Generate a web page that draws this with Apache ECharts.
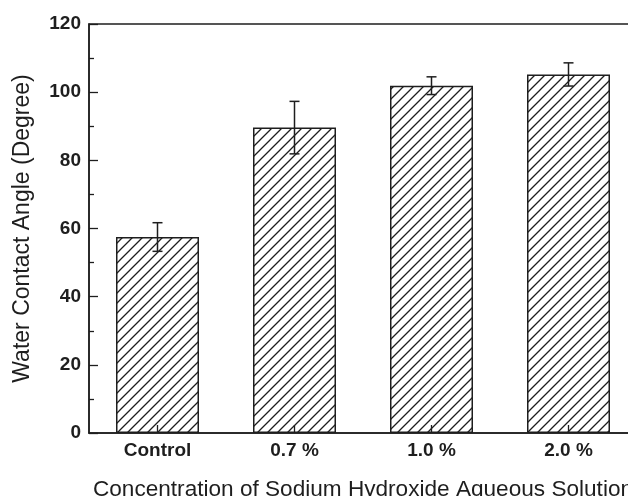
<!DOCTYPE html>
<html>
<head>
<meta charset="utf-8">
<script src="https://cdn.jsdelivr.net/npm/echarts@6/dist/echarts.min.js"></script>
<style>
  html, body { margin: 0; padding: 0; background: #ffffff; }
  #chart { width: 628px; height: 496px; }
</style>
</head>
<body>
<div id="chart"></div>
<script>
// Water contact angle by NaOH concentration (mean ± error)
const categories = ['Control', '0.7 %', '1.0 %', '2.0 %'];
const angleMean  = [57.5, 89.6, 101.9, 105.2];
const angleError = [4.2, 7.7, 2.6, 3.4];
const yTicks = { min: 0, max: 120, interval: 20 };

const INK = '#1e1e1e';
const FONT = '"Liberation Sans", Arial, Helvetica, sans-serif';

// Diagonal "/" hatch used to fill the bars
function hatchPattern() {
  const s = 10;
  const c = document.createElement('canvas');
  c.width = s; c.height = s;
  const g = c.getContext('2d');
  g.strokeStyle = INK;
  g.lineWidth = 1.3;
  g.beginPath();
  g.moveTo(0, s); g.lineTo(s, 0);
  g.moveTo(-2, 2); g.lineTo(2, -2);
  g.moveTo(s - 2, s + 2); g.lineTo(s + 2, s - 2);
  g.stroke();
  return c;
}

const chart = echarts.init(document.getElementById('chart'), null, { renderer: 'canvas' });

const option = {
  animation: false,
  backgroundColor: '#ffffff',
  grid: {
    left: 89, top: 24, width: 548, height: 409,
    containLabel: false,
    outerBoundsMode: 'none',
    show: true, borderColor: INK, borderWidth: 1.5, backgroundColor: 'transparent'
  },
  xAxis: {
    type: 'category',
    data: categories,
    name: 'Concentration of Sodium Hydroxide Aqueous Solution',
    nameLocation: 'middle',
    nameGap: 45,
    nameTextStyle: { fontFamily: FONT, fontSize: 22.6, color: INK },
    axisLine: { lineStyle: { color: INK, width: 1.5 } },
    axisTick: { show: true, inside: true, alignWithLabel: true, length: 8, lineStyle: { color: INK, width: 1.3 } },
    axisLabel: { fontFamily: FONT, fontSize: 19, fontWeight: 'bold', color: INK, margin: 8 },
    splitLine: { show: false }
  },
  yAxis: {
    type: 'value',
    min: yTicks.min, max: yTicks.max, interval: yTicks.interval,
    name: 'Water Contact Angle (Degree)',
    nameLocation: 'middle',
    nameRotate: 90,
    nameGap: 55,
    nameTextStyle: { fontFamily: FONT, fontSize: 23, color: INK },
    axisLine: { show: true, lineStyle: { color: INK, width: 1.5 } },
    axisTick: { show: true, inside: true, length: 9, lineStyle: { color: INK, width: 1.3 } },
    minorTick: { show: true, splitNumber: 2, length: 5, lineStyle: { color: INK, width: 1.3 } },
    axisLabel: { fontFamily: FONT, fontSize: 19, fontWeight: 'bold', color: INK, margin: 8 },
    splitLine: { show: false }
  },
  series: [
    {
      type: 'bar',
      data: angleMean,
      barWidth: 83,
      itemStyle: {
        color: { image: hatchPattern(), repeat: 'repeat' },
        borderColor: INK,
        borderWidth: 1.5
      },
      z: 2
    },
    {
      type: 'custom',
      data: angleMean.map((m, i) => [i, m - angleError[i], m + angleError[i]]),
      z: 5,
      renderItem: function (params, api) {
        const lo = api.coord([api.value(0), api.value(1)]);
        const hi = api.coord([api.value(0), api.value(2)]);
        const half = 5;
        const style = { stroke: INK, lineWidth: 1.5, fill: null };
        return {
          type: 'group',
          children: [
            { type: 'line', shape: { x1: hi[0], y1: hi[1], x2: lo[0], y2: lo[1] }, style: style },
            { type: 'line', shape: { x1: hi[0] - half, y1: hi[1], x2: hi[0] + half, y2: hi[1] }, style: style },
            { type: 'line', shape: { x1: lo[0] - half, y1: lo[1], x2: lo[0] + half, y2: lo[1] }, style: style }
          ]
        };
      }
    }
  ]
};

chart.setOption(option);
</script>
</body>
</html>
